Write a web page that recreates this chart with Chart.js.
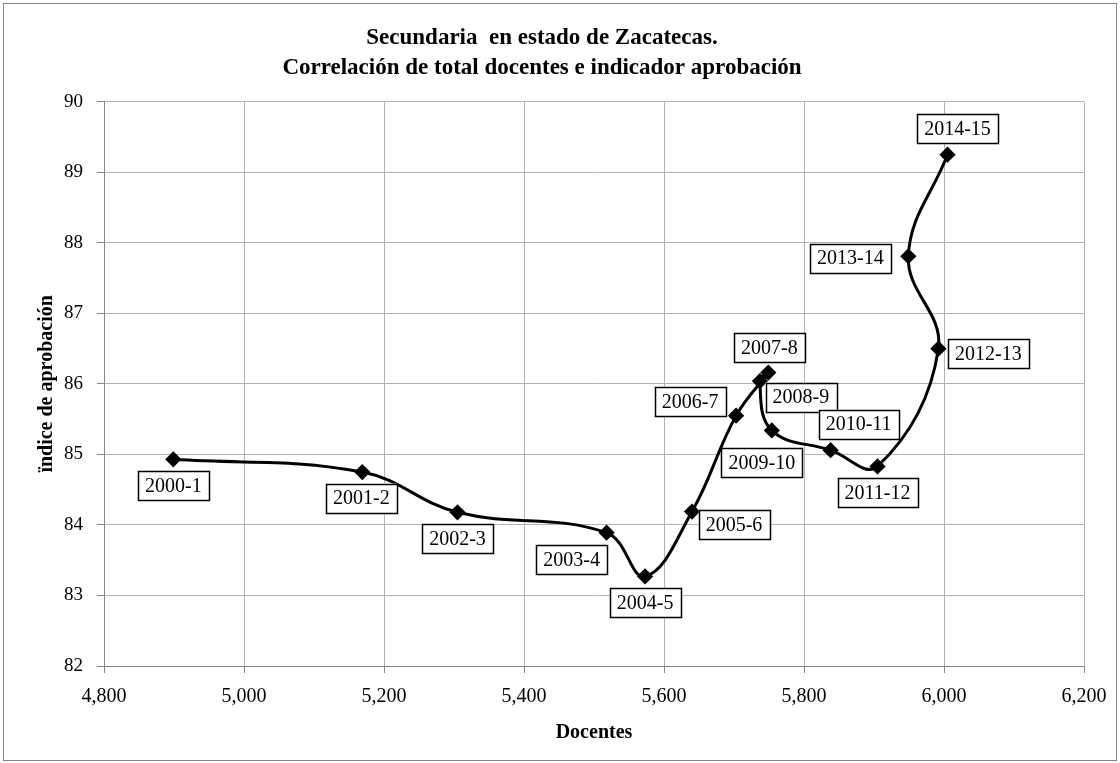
<!DOCTYPE html>
<html lang="es">
<head>
    <meta charset="UTF-8">
    <title>Secundaria en estado de Zacatecas</title>
    <script src="https://cdn.jsdelivr.net/npm/chart.js"></script>
    <style>
        body { margin: 0; background: #fff; }
        .chart-box { width: 1120px; height: 763px; position: relative; }
    </style>
</head>
<body>
    <div class="chart-box">
        <canvas id="corrChart" width="1120" height="763"></canvas>
    </div>

    <script>
        // ciclos escolares
        const ciclos = ['2000-1', '2001-2', '2002-3', '2003-4', '2004-5', '2005-6', '2006-7', '2007-8',
                        '2008-9', '2009-10', '2010-11', '2011-12', '2012-13', '2013-14', '2014-15'];
        // total docentes
        const docentes = [4899, 5169, 5305, 5518, 5573, 5640, 5703, 5749, 5737, 5754, 5838, 5905, 5992, 5949, 6005];
        // indice de aprobacion
        const aprobacion = [84.93, 84.75, 84.18, 83.89, 83.27, 84.19, 85.55, 86.16, 86.04, 85.34, 85.06, 84.83, 86.50, 87.81, 89.25];
        // ejes
        const xTicks = [4800, 5000, 5200, 5400, 5600, 5800, 6000, 6200];
        const yTicks = [82, 83, 84, 85, 86, 87, 88, 89, 90];

        // where each label box sits relative to its point (px)
        const labelOffsets = [[0, 26], [-1, 26], [0, 26], [-35, 27], [0, 26], [42, 13], [-46, -14], [1, -25],
                              [41, 16], [-10, 32], [28, -26], [0, 26], [50, 5], [-58, 2], [10, -26]];

        const serif = '"Liberation Serif", "Times New Roman", serif';

        // boxed labels next to the points
        const boxLabels = {
            id: 'boxLabels',
            afterDatasetsDraw(chart) {
                const ctx = chart.ctx;
                const meta = chart.getDatasetMeta(0);
                ctx.save();
                ctx.font = '20px ' + serif;
                ctx.textAlign = 'center';
                ctx.textBaseline = 'middle';
                meta.data.forEach((pt, i) => {
                    const cx = pt.x + labelOffsets[i][0];
                    const cy = pt.y + labelOffsets[i][1];
                    const w = ctx.measureText(ciclos[i]).width + 14;
                    const h = 29;
                    ctx.fillStyle = '#fff';
                    ctx.fillRect(cx - w / 2, cy - h / 2, w, h);
                    ctx.strokeStyle = '#000';
                    ctx.lineWidth = 1.5;
                    ctx.strokeRect(Math.round(cx - w / 2) + 0.5, Math.round(cy - h / 2) + 0.5, Math.round(w), h);
                    ctx.fillStyle = '#000';
                    ctx.fillText(ciclos[i], cx, cy + 1);
                });
                ctx.restore();
            }
        };

        // outer frame of the chart
        const frame = {
            id: 'frame',
            beforeDraw(chart) {
                const ctx = chart.ctx;
                ctx.save();
                ctx.fillStyle = '#fff';
                ctx.fillRect(0, 0, chart.width, chart.height);
                ctx.strokeStyle = '#868686';
                ctx.lineWidth = 1;
                ctx.strokeRect(3.5, 3.5, chart.width - 7, chart.height - 6);
                ctx.restore();
            }
        };

        const ctx = document.getElementById('corrChart').getContext('2d');
        const corrChart = new Chart(ctx, {
            type: 'scatter',
            data: {
                datasets: [{
                    label: 'Aprobación',
                    data: docentes.map((d, i) => ({ x: d, y: aprobacion[i] })),
                    showLine: true,
                    tension: 0.4,
                    borderColor: '#000',
                    borderWidth: 3,
                    pointStyle: 'rectRot',
                    pointRadius: 6,
                    pointBackgroundColor: '#000',
                    pointBorderColor: '#000'
                }]
            },
            options: {
                responsive: false,
                animation: false,
                layout: { padding: { left: 0, right: 36, top: 0, bottom: 0 } },
                plugins: {
                    legend: { display: false },
                    tooltip: { enabled: false },
                    title: {
                        display: true,
                        text: ['Secundaria  en estado de Zacatecas.', 'Correlación de total docentes e indicador aprobación'],
                        color: '#000',
                        font: { family: serif, size: 23, weight: 'bold', lineHeight: 1.3 },
                        padding: { top: 23, bottom: 19 }
                    }
                },
                scales: {
                    x: {
                        type: 'linear',
                        min: xTicks[0],
                        max: xTicks[xTicks.length - 1],
                        afterBuildTicks: s => { s.ticks = xTicks.map(v => ({ value: v })); },
                        afterFit: s => { s.height = 97; },
                        grid: { color: '#b3b3b3', tickColor: '#868686', tickLength: 7 },
                        border: { color: '#868686' },
                        ticks: { color: '#000', font: { family: serif, size: 20 }, padding: 12 },
                        title: {
                            display: true,
                            text: 'Docentes',
                            color: '#000',
                            font: { family: serif, size: 20, weight: 'bold' },
                            padding: { top: 4, bottom: 18 }
                        }
                    },
                    y: {
                        min: yTicks[0],
                        max: yTicks[yTicks.length - 1],
                        afterBuildTicks: s => { s.ticks = yTicks.map(v => ({ value: v })); },
                        afterFit: s => { s.width = 104; },
                        grid: { color: '#b3b3b3', tickColor: '#868686', tickLength: 7 },
                        border: { color: '#868686' },
                        ticks: { color: '#000', font: { family: serif, size: 19 }, padding: 14 },
                        title: {
                            display: true,
                            text: 'ïndice de aprobación',
                            color: '#000',
                            font: { family: serif, size: 20, weight: 'bold' },
                            padding: { top: 35, bottom: 4 }
                        }
                    }
                }
            },
            plugins: [frame, boxLabels]
        });
    </script>
</body>
</html>
